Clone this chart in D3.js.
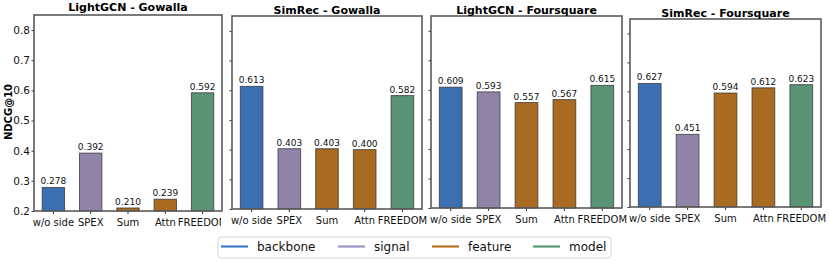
<!DOCTYPE html>
<html>
<head>
<meta charset="utf-8">
<script src="https://cdn.jsdelivr.net/npm/d3@7"></script>
<style>
  body { margin: 0; background: #fff; }
  svg { font-family: "DejaVu Sans", sans-serif; }
</style>
</head>
<body>
<svg id="chart" width="830" height="262"></svg>
<script>
// ---- data ----
const categories = ["w/o side", "SPEX", "Sum", "Attn", "FREEDOM"];
const barGroup = ["backbone", "signal", "feature", "feature", "model"];
const titles = ["LightGCN - Gowalla", "SimRec - Gowalla", "LightGCN - Foursquare", "SimRec - Foursquare"];
const lightgcnGowalla = [0.278, 0.392, 0.210, 0.239, 0.592];
const simrecGowalla = [0.613, 0.403, 0.403, 0.400, 0.582];
const lightgcnFoursquare = [0.609, 0.593, 0.557, 0.567, 0.615];
const simrecFoursquare = [0.627, 0.451, 0.594, 0.612, 0.623];
const yTicks = [0.2, 0.3, 0.4, 0.5, 0.6, 0.7, 0.8];
const legendKeys = ["backbone", "signal", "feature", "model"];

const series = [lightgcnGowalla, simrecGowalla, lightgcnFoursquare, simrecFoursquare];

// ---- layout (each panel was its own image, so frames differ a bit) ----
const frames = [
  {x0: 34, x1: 222, y0: 15, y1: 211, ty: 7.5, clip: 221},
  {x0: 232, x1: 422, y0: 16, y1: 209, ty: 10, clip: 428},
  {x0: 431, x1: 622, y0: 16, y1: 208, ty: 10.5, clip: 627},
  {x0: 630, x1: 821, y0: 19, y1: 207, ty: 13, clip: 830}
];

const barColor = {backbone: "#3b6fb2", signal: "#9184a9", feature: "#a86b21", model: "#5b9376"};
const lineColor = {backbone: "#3d7bc8", signal: "#a092c2", feature: "#b8721f", model: "#5c9a74"};

const svg = d3.select("#chart");
const defs = svg.append("defs");

frames.forEach(function(f, p) {
  let x = d3.scaleBand()
    .domain(categories)
    .range([f.x0, f.x1])
    .paddingInner(0.4)
    .paddingOuter(0.22);

  let y = d3.scaleLinear()
    .domain([0.2, 0.85])
    .range([f.y1, f.y0]);

  defs.append("clipPath").attr("id", "clip" + p)
    .append("rect").attr("x", 0).attr("y", 0).attr("width", f.clip).attr("height", 235);

  let g = svg.append("g");

  // bars
  g.selectAll(".bar")
    .data(series[p])
    .enter().append("rect")
    .attr("x", (d, i) => x(categories[i]))
    .attr("y", d => y(d))
    .attr("width", x.bandwidth())
    .attr("height", d => y(0.2) - y(d))
    .attr("fill", (d, i) => barColor[barGroup[i]])
    .attr("stroke", "#333")
    .attr("stroke-opacity", 0.75)
    .attr("stroke-width", 1);

  // value labels
  g.selectAll(".val")
    .data(series[p])
    .enter().append("text")
    .attr("x", (d, i) => x(categories[i]) + x.bandwidth() / 2)
    .attr("y", d => y(d) - 3)
    .attr("text-anchor", "middle")
    .attr("font-size", "9px")
    .attr("fill", "#111")
    .text(d => d.toFixed(3));

  // x axis
  let xAxis = g.append("g")
    .attr("transform", "translate(0," + f.y1 + ")")
    .attr("clip-path", "url(#clip" + p + ")")
    .call(d3.axisBottom(x).tickSize(3).tickPadding(4.5));
  xAxis.select(".domain").remove();
  xAxis.selectAll("line").attr("stroke", "#333");
  xAxis.selectAll("text").attr("font-size", "10px").attr("fill", "#111")
    .attr("font-family", "DejaVu Sans, sans-serif");

  // y axis
  let yAxis = g.append("g")
    .attr("transform", "translate(" + f.x0 + ",0)")
    .call(d3.axisLeft(y).tickValues(yTicks).tickSize(2.5).tickPadding(1.5)
      .tickFormat(p === 0 ? d3.format(".1f") : ""));
  yAxis.select(".domain").remove();
  yAxis.selectAll("line").attr("stroke", "#333");
  yAxis.selectAll("text").attr("font-size", "10.5px").attr("fill", "#111")
    .attr("font-family", "DejaVu Sans, sans-serif");

  // frame
  g.append("rect")
    .attr("x", f.x0).attr("y", f.y0)
    .attr("width", f.x1 - f.x0).attr("height", f.y1 - f.y0)
    .attr("fill", "none")
    .attr("stroke", "#5a5a5a")
    .attr("stroke-width", 1.6);

  // title
  g.append("text")
    .attr("x", (f.x0 + f.x1) / 2)
    .attr("y", f.ty)
    .attr("dy", "0.36em")
    .attr("text-anchor", "middle")
    .attr("font-size", "11px")
    .attr("font-weight", "bold")
    .attr("fill", "#000")
    .text(titles[p]);
});

// y label
svg.append("text")
  .attr("transform", "translate(8,112) rotate(-90)")
  .attr("dy", "0.36em")
  .attr("text-anchor", "middle")
  .attr("font-size", "10px")
  .attr("font-weight", "bold")
  .text("NDCG@10");

// legend
let legend = svg.append("g");
legend.append("rect")
  .attr("x", 218).attr("y", 237)
  .attr("width", 393).attr("height", 21)
  .attr("rx", 3)
  .attr("fill", "#fff")
  .attr("stroke", "#d5d5d5")
  .attr("stroke-width", 1);

let offsets = {backbone: 0, signal: 117, feature: 211, model: 312};

let item = legend.selectAll(".item")
  .data(legendKeys)
  .enter().append("g")
  .attr("transform", d => "translate(" + (221 + offsets[d]) + ",246.5)");

item.append("line")
  .attr("x1", 0).attr("x2", 27)
  .attr("stroke", d => lineColor[d])
  .attr("stroke-width", 2.2);

item.append("text")
  .attr("x", 36)
  .attr("dy", "0.35em")
  .attr("font-size", "12px")
  .attr("fill", "#111")
  .text(d => d);
</script>
</body>
</html>
